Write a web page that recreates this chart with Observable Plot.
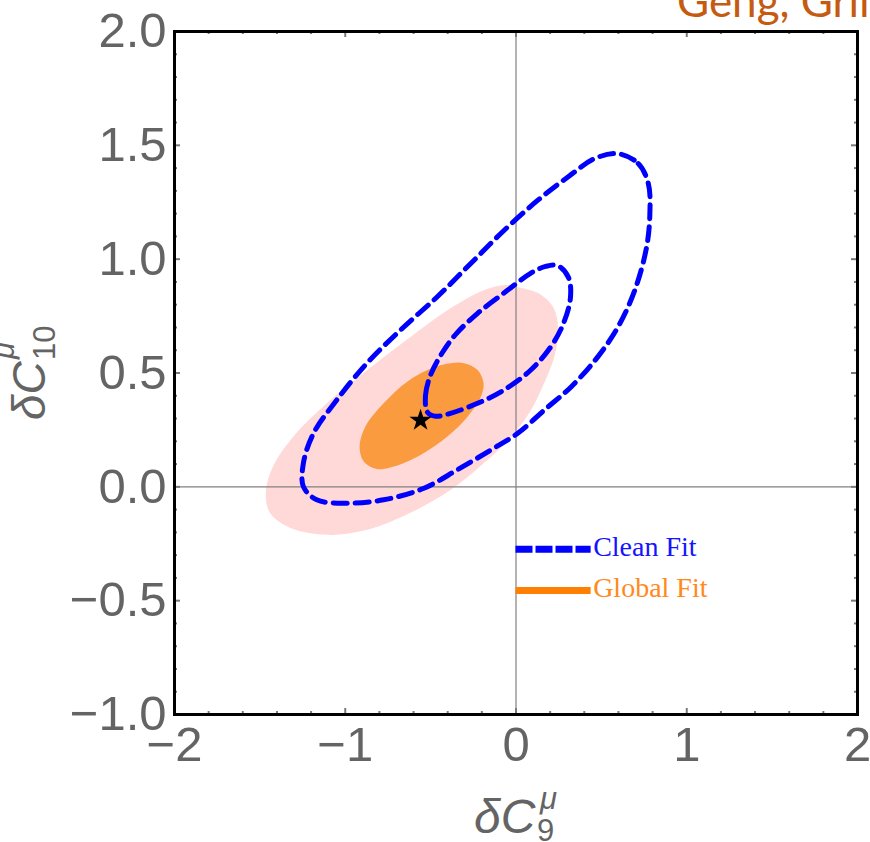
<!DOCTYPE html>
<html>
<head>
<meta charset="utf-8">
<script src="https://cdn.jsdelivr.net/npm/d3@7"></script>
<script src="https://cdn.jsdelivr.net/npm/@observablehq/plot@0.6"></script>
<style>
html, body { margin: 0; padding: 0; background: #fff; overflow: hidden; }
#wrap { position: relative; width: 870px; height: 842px; overflow: hidden; }
</style>
</head>
<body>
<div id="wrap"></div>
<script>
// ---- Data ----
// Global fit, 2σ region (light pink)
const globalFit2 = [
  {x:-0.047,y:0.886},{x:0.012,y:0.877},{x:0.129,y:0.851},{x:0.218,y:0.789},
  {x:0.247,y:0.689},{x:0.224,y:0.570},{x:0.165,y:0.456},{x:0.088,y:0.338},
  {x:-0.029,y:0.219},{x:-0.188,y:0.105},{x:-0.382,y:-0.013},{x:-0.618,y:-0.114},
  {x:-0.871,y:-0.189},{x:-1.106,y:-0.211},{x:-1.324,y:-0.180},{x:-1.441,y:-0.114},
  {x:-1.465,y:-0.026},{x:-1.424,y:0.088},{x:-1.306,y:0.219},{x:-1.106,y:0.368},
  {x:-0.871,y:0.513},{x:-0.618,y:0.658},{x:-0.382,y:0.785},{x:-0.188,y:0.864}
];
// Global fit, 1σ region (orange)
const globalFit1 = [
  {x:-0.304,y:0.543},{x:-0.225,y:0.513},{x:-0.190,y:0.455},{x:-0.206,y:0.396},
  {x:-0.284,y:0.308},{x:-0.402,y:0.221},{x:-0.559,y:0.140},{x:-0.716,y:0.089},
  {x:-0.814,y:0.078},{x:-0.892,y:0.111},{x:-0.916,y:0.177},{x:-0.882,y:0.265},
  {x:-0.775,y:0.367},{x:-0.637,y:0.462},{x:-0.480,y:0.525},{x:-0.382,y:0.543}
];
// Clean fit, outer contour (blue dashed)
const cleanFit2 = [
  {x:0.598,y:1.463},{x:0.716,y:1.420},{x:0.775,y:1.332},{x:0.784,y:1.200},
  {x:0.765,y:1.054},{x:0.696,y:0.864},{x:0.598,y:0.703},{x:0.480,y:0.572},
  {x:0.324,y:0.440},{x:0.167,y:0.338},{x:0.010,y:0.235},{x:-0.147,y:0.162},
  {x:-0.343,y:0.075},{x:-0.539,y:-0.006},{x:-0.775,y:-0.057},{x:-0.990,y:-0.072},
  {x:-1.167,y:-0.057},{x:-1.245,y:0.001},{x:-1.245,y:0.104},{x:-1.186,y:0.235},
  {x:-1.049,y:0.382},{x:-0.873,y:0.543},{x:-0.676,y:0.689},{x:-0.461,y:0.835},
  {x:-0.265,y:0.981},{x:-0.069,y:1.127},{x:0.128,y:1.259},{x:0.304,y:1.361},
  {x:0.461,y:1.442}
];
// Clean fit, inner contour (blue dashed)
const cleanFit1 = [
  {x:-0.518,y:0.327},{x:-0.530,y:0.402},{x:-0.501,y:0.490},{x:-0.430,y:0.591},
  {x:-0.348,y:0.674},{x:-0.225,y:0.762},{x:-0.050,y:0.863},{x:0.085,y:0.938},
  {x:0.173,y:0.968},{x:0.243,y:0.972},{x:0.307,y:0.920},{x:0.319,y:0.832},
  {x:0.278,y:0.718},{x:0.202,y:0.613},{x:0.085,y:0.512},{x:-0.073,y:0.424},
  {x:-0.225,y:0.367},{x:-0.384,y:0.323},{x:-0.471,y:0.310}
];
// Best-fit point (star)
const bestFit = [{x:-0.559, y:0.292}];

// Legend entries (placed in data space, lower right of the origin)
const legendLabels = ["Clean Fit", "Global Fit"];
const legendY = [-0.274, -0.455];
const legendX1 = [0, 0];
const legendX2 = [0.44, 0.44];

// Ticks
const xTicks = [-2, -1, 0, 1, 2];
const yTicks = [-1, -0.5, 0, 0.5, 1, 1.5, 2];
const xMinor = [-1.8,-1.6,-1.4,-1.2,-0.8,-0.6,-0.4,-0.2,0.2,0.4,0.6,0.8,1.2,1.4,1.6,1.8];
const yMinor = [-0.9,-0.8,-0.7,-0.6,-0.4,-0.3,-0.2,-0.1,0.1,0.2,0.3,0.4,0.6,0.7,0.8,0.9,1.1,1.2,1.3,1.4,1.6,1.7,1.8,1.9];

const titleText = "Geng, Grinstein";

// ---- Layout ----
const W = 870, H = 842;
const mL = 174, mR = 13, mT = 31, mB = 128;
const plotH = H - mT - mB, plotW = W - mL - mR;

const legend = legendLabels.map((label, i) => ({label, y: legendY[i], x1: legendX1[i], x2: legendX2[i]}));
const legendColor = {"Clean Fit": "#0000ff", "Global Fit": "#ff8000"};
const legendText = {"Clean Fit": "#1414ff", "Global Fit": "#ff8a1c"};

const fmtX = d => (d < 0 ? "\u2212" : "") + Math.abs(d);
const fmtY = d => (d < 0 ? "\u2212" : "") + Math.abs(d).toFixed(1);

const tickColor = "#7a7a7a";

const plot = Plot.plot({
  width: W, height: H,
  marginLeft: mL, marginRight: mR, marginTop: mT, marginBottom: mB,
  x: {domain: [-2, 2]},
  y: {domain: [-1, 2]},
  style: {background: "white", fontFamily: "'Liberation Sans', Arial, sans-serif", overflow: "visible"},
  marks: [
    Plot.line(globalFit2, {x: "x", y: "y", curve: "catmull-rom-closed", fill: "#ffd8d8", stroke: "none"}),
    Plot.line(globalFit1, {x: "x", y: "y", curve: "catmull-rom-closed", fill: "#f99b3e", stroke: "none"}),
    Plot.ruleX([0], {stroke: "#808080", strokeWidth: 1.2}),
    Plot.ruleY([0], {stroke: "#808080", strokeWidth: 1.2}),
    Plot.line(cleanFit2, {x: "x", y: "y", curve: "catmull-rom-closed", stroke: "#0000ff", strokeWidth: 5, strokeDasharray: "14,8"}),
    Plot.line(cleanFit1, {x: "x", y: "y", curve: "catmull-rom-closed", stroke: "#0000ff", strokeWidth: 5, strokeDasharray: "14,8"}),
    Plot.dot(bestFit, {x: "x", y: "y", symbol: "star", fill: "black", r: 7}),
    Plot.ruleY(legend.filter(d => d.label === "Clean Fit"), {y: "y", x1: "x1", x2: "x2", stroke: legendColor["Clean Fit"], strokeWidth: 7, strokeDasharray: "17,3"}),
    Plot.ruleY(legend.filter(d => d.label === "Global Fit"), {y: "y", x1: "x1", x2: "x2", stroke: legendColor["Global Fit"], strokeWidth: 7}),
    Plot.text(legend, {x: "x2", y: "y", text: "label", textAnchor: "start", dx: 2, dy: -2,
      fill: d => legendText[d.label], fontFamily: "'Liberation Serif', 'Times New Roman', serif", fontSize: 28}),
    // inward frame ticks (bottom, top, left, right)
    Plot.tickX(xMinor, {x: d => d, insetTop: plotH - 3, stroke: tickColor, strokeWidth: 2}),
    Plot.tickX(xMinor, {x: d => d, insetBottom: plotH - 3, stroke: tickColor, strokeWidth: 2}),
    Plot.tickX(xTicks, {x: d => d, insetTop: plotH - 6, stroke: tickColor, strokeWidth: 2}),
    Plot.tickX(xTicks, {x: d => d, insetBottom: plotH - 6, stroke: tickColor, strokeWidth: 2}),
    Plot.tickY(yMinor, {y: d => d, insetRight: plotW - 3, stroke: tickColor, strokeWidth: 2}),
    Plot.tickY(yMinor, {y: d => d, insetLeft: plotW - 3, stroke: tickColor, strokeWidth: 2}),
    Plot.tickY(yTicks, {y: d => d, insetRight: plotW - 6, stroke: tickColor, strokeWidth: 2}),
    Plot.tickY(yTicks, {y: d => d, insetLeft: plotW - 6, stroke: tickColor, strokeWidth: 2}),
    Plot.frame({stroke: "black", strokeWidth: 3}),
    Plot.axisX({ticks: xTicks, anchor: "bottom", tickSize: 0, tickPadding: 12, fontSize: 49, fill: "#646464", tickFormat: fmtX, label: null}),
    Plot.axisY({ticks: yTicks, anchor: "left", tickSize: 0, tickPadding: 8, fontSize: 49, fill: "#646464", tickFormat: fmtY, label: null})
  ]
});

document.getElementById("wrap").appendChild(plot);

// ---- Title and axis labels (real text, added to the SVG) ----
const svg = d3.select(plot);
svg.append("text")
  .attr("x", 677).attr("y", 17)
  .attr("text-anchor", "start")
  .attr("fill", "#c55a11")
  .attr("font-family", "Lato, 'Open Sans', sans-serif")
  .attr("font-size", 44)
  .text(titleText);

const labelFill = "#646464";
const xl = svg.append("text").attr("text-anchor", "start").attr("fill", labelFill).attr("font-family", "'Liberation Sans', Arial, sans-serif");
xl.append("tspan").attr("x", 474).attr("y", 833).attr("font-size", 48).attr("font-style", "italic").text("\u03B4C");
xl.append("tspan").attr("x", 537).attr("y", 841).attr("font-size", 31).text("9");
xl.append("tspan").attr("x", 540).attr("y", 809).attr("font-size", 31).attr("font-style", "italic").text("\u03BC");

const yg = svg.append("g").attr("transform", "translate(45,420) rotate(-90)");
const yl = yg.append("text").attr("text-anchor", "start").attr("fill", labelFill).attr("font-family", "'Liberation Sans', Arial, sans-serif");
yl.append("tspan").attr("x", 0).attr("y", 0).attr("font-size", 46).attr("font-style", "italic").text("\u03B4C");
yl.append("tspan").attr("x", 60).attr("y", 10).attr("font-size", 31).text("10");
yl.append("tspan").attr("x", 61).attr("y", -31).attr("font-size", 31).attr("font-style", "italic").text("\u03BC");
</script>
</body>
</html>
